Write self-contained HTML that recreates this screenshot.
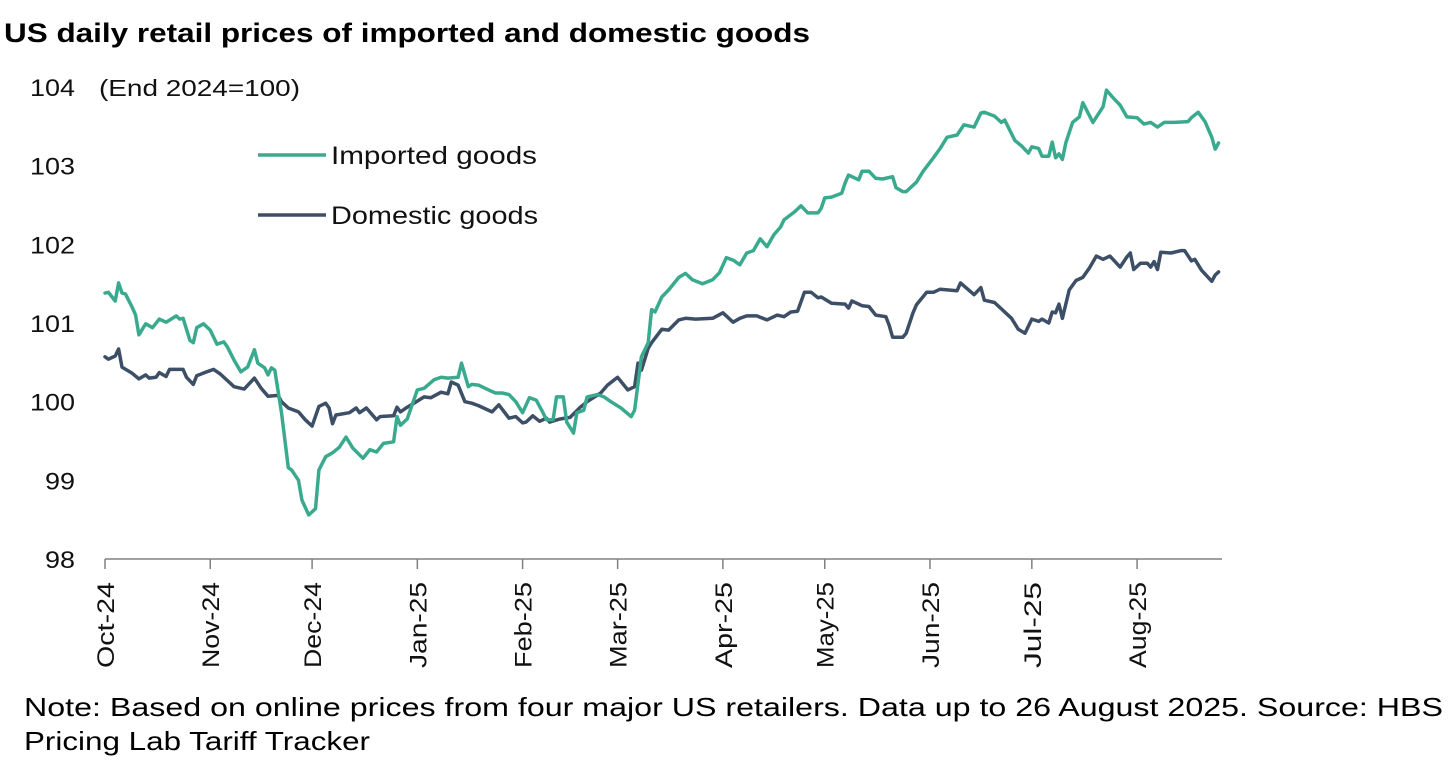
<!DOCTYPE html>
<html><head><meta charset="utf-8">
<style>
html,body{margin:0;padding:0;background:#fff;}
body{width:1456px;height:781px;overflow:hidden;position:relative;font-family:"Liberation Sans",sans-serif;}
svg{position:absolute;left:0;top:0;}
</style></head>
<body>
<svg id="chart" width="1456" height="781" xmlns="http://www.w3.org/2000/svg">
<text x="4" y="42" font-size="27" font-weight="bold" fill="#000" font-family="Liberation Sans, sans-serif" textLength="806" lengthAdjust="spacingAndGlyphs">US daily retail prices of imported and domestic goods</text>
<text x="99" y="96" font-size="23" fill="#111" font-family="Liberation Sans, sans-serif" textLength="201" lengthAdjust="spacingAndGlyphs">(End 2024=100)</text>
<g>
<line x1="258" y1="155" x2="326" y2="155" stroke="#3aaa8f" stroke-width="3.5"/>
<text x="331" y="164" font-size="25" fill="#111" font-family="Liberation Sans, sans-serif" textLength="206" lengthAdjust="spacingAndGlyphs">Imported goods</text>
<line x1="258" y1="215" x2="326" y2="215" stroke="#3d4f66" stroke-width="3.5"/>
<text x="331" y="224" font-size="25" fill="#111" font-family="Liberation Sans, sans-serif" textLength="207" lengthAdjust="spacingAndGlyphs">Domestic goods</text>
</g>
<g id="axes"></g>
<g id="series"></g>
<text x="24" y="716" font-size="26" fill="#000" font-family="Liberation Sans, sans-serif" textLength="1419" lengthAdjust="spacingAndGlyphs">Note: Based on online prices from four major US retailers. Data up to 26 August 2025. Source: HBS</text>
<text x="24" y="750" font-size="26" fill="#000" font-family="Liberation Sans, sans-serif" textLength="346" lengthAdjust="spacingAndGlyphs">Pricing Lab Tariff Tracker</text>
</svg>
<script>
const yTicks = [98, 99, 100, 101, 102, 103, 104];
const monthLabels = ["Oct-24","Nov-24","Dec-24","Jan-25","Feb-25","Mar-25","Apr-25","May-25","Jun-25","Jul-25","Aug-25"];
const monthDays = [0, 31, 61, 92, 123, 151, 182, 212, 243, 273, 304];
const importedDays = [0,1,3,4,5,6,8,9,10,12,14,16,18,21,22,23,25,26,27,29,31,33,35,36,38,40,42,44,45,47,48,49,50,52,54,55,57,58,60,62,63,65,67,69,71,73,76,78,80,82,85,86,87,89,92,94,97,99,101,104,105,107,108,110,113,115,117,119,121,123,125,127,129,130,132,133,135,136,138,139,141,142,145,147,149,152,155,156,158,160,161,162,164,166,169,171,173,176,179,181,183,185,187,189,191,193,195,197,199,200,203,205,207,210,211,212,214,217,218,219,222,223,225,227,229,232,233,235,236,239,241,244,246,248,251,253,256,258,259,262,264,265,268,270,272,273,275,276,278,279,280,281,282,283,285,287,288,291,294,295,297,299,301,304,306,308,310,312,315,319,320,322,324,326,327,328];
const importedValues = [101.38,101.39,101.28,101.51,101.38,101.37,101.20,101.10,100.85,100.99,100.94,101.05,101.01,101.09,101.05,101.06,100.78,100.75,100.94,100.99,100.91,100.73,100.76,100.70,100.53,100.38,100.44,100.66,100.49,100.43,100.34,100.43,100.40,99.86,99.16,99.13,99.00,98.75,98.56,98.64,99.13,99.30,99.35,99.42,99.55,99.41,99.28,99.39,99.36,99.47,99.49,99.81,99.70,99.78,100.15,100.17,100.28,100.31,100.30,100.31,100.49,100.19,100.22,100.21,100.15,100.11,100.11,100.09,100.00,99.86,100.05,100.02,99.86,99.77,99.77,100.06,100.06,99.74,99.60,99.86,99.89,100.06,100.09,100.06,100.00,99.92,99.81,99.89,100.57,100.75,101.17,101.14,101.33,101.42,101.58,101.63,101.55,101.50,101.55,101.64,101.83,101.80,101.74,101.89,101.92,102.07,101.97,102.12,102.22,102.31,102.41,102.49,102.40,102.40,102.46,102.59,102.60,102.65,102.78,102.88,102.82,102.93,102.93,102.84,102.83,102.86,102.72,102.67,102.67,102.79,102.93,103.10,103.22,103.36,103.39,103.52,103.49,103.67,103.68,103.63,103.55,103.58,103.32,103.25,103.16,103.24,103.22,103.12,103.12,103.30,103.10,103.15,103.08,103.29,103.55,103.62,103.80,103.55,103.75,103.96,103.86,103.77,103.62,103.61,103.53,103.55,103.49,103.55,103.55,103.56,103.61,103.68,103.56,103.36,103.21,103.29];
const domesticDays = [0,1,3,4,5,8,10,12,13,15,16,18,19,23,24,26,27,30,32,34,36,38,41,44,46,48,51,52,54,57,59,61,63,65,66,67,68,72,74,75,77,80,81,85,86,87,89,91,94,96,99,101,102,104,106,108,110,114,116,119,121,123,124,126,128,130,131,134,137,140,142,146,148,151,154,156,157,158,160,161,164,166,169,171,174,179,182,185,187,189,192,195,198,200,202,204,206,208,210,211,214,218,219,220,223,225,227,230,231,232,235,236,238,239,242,244,246,251,252,256,258,259,262,267,269,271,273,275,276,278,279,280,281,282,284,286,288,290,292,294,296,299,301,302,303,305,307,308,309,310,311,314,317,318,320,321,323,326,327,328];
const domesticValues = [100.57,100.54,100.58,100.67,100.44,100.36,100.29,100.34,100.30,100.31,100.37,100.32,100.41,100.41,100.31,100.22,100.33,100.38,100.41,100.35,100.27,100.19,100.16,100.30,100.17,100.07,100.08,100.00,99.92,99.87,99.77,99.69,99.94,99.98,99.92,99.72,99.83,99.86,99.92,99.86,99.92,99.77,99.81,99.82,99.93,99.87,99.93,99.98,100.06,100.05,100.12,100.10,100.25,100.21,100.00,99.98,99.95,99.87,99.96,99.79,99.81,99.73,99.74,99.82,99.75,99.79,99.74,99.78,99.80,99.93,100.00,100.11,100.21,100.31,100.15,100.19,100.49,100.40,100.68,100.75,100.92,100.91,101.04,101.06,101.05,101.06,101.13,101.01,101.06,101.09,101.09,101.04,101.10,101.08,101.14,101.15,101.39,101.39,101.32,101.33,101.25,101.24,101.19,101.28,101.22,101.21,101.10,101.08,100.97,100.82,100.82,100.87,101.13,101.23,101.39,101.39,101.43,101.41,101.51,101.36,101.45,101.29,101.26,101.06,100.92,100.87,101.05,101.02,101.05,101.00,101.14,101.13,101.24,101.06,101.42,101.54,101.58,101.70,101.85,101.81,101.85,101.71,101.84,101.89,101.68,101.76,101.76,101.71,101.78,101.68,101.90,101.89,101.92,101.92,101.79,101.81,101.67,101.53,101.61,101.65];

const NS = "http://www.w3.org/2000/svg";
const X0 = 105, PXDAY = 3.395;
const Y98 = 559, PXUNIT = (559 - 87) / 6;
function xScale(d){ return X0 + d * PXDAY; }
function yScale(v){ return Y98 - (v - 98) * PXUNIT; }
function mk(tag, attrs, parent){
  const el = document.createElementNS(NS, tag);
  for (const k in attrs) el.setAttribute(k, attrs[k]);
  parent.appendChild(el);
  return el;
}
const axes = document.getElementById('axes');
const series = document.getElementById('series');

const axisLine = mk('line', {x1: X0, y1: Y98, x2: 1222, y2: Y98, stroke: '#808080', 'stroke-width': 1.5}, axes);



yTicks.forEach(function(t){
  const lbl = mk('text', {x: 75, y: yScale(t) + 9, 'text-anchor': 'end', 'font-size': 24, fill: '#111', 'font-family': 'Liberation Sans, sans-serif', textLength: (t >= 100 ? 45 : 30), lengthAdjust: 'spacingAndGlyphs'}, axes);
  lbl.textContent = String(t);
  
  
});

monthDays.forEach(function(d, i){
  const x = xScale(d);
  const tk = mk('line', {x1: x, y1: Y98, x2: x, y2: Y98 + 10, stroke: '#808080', 'stroke-width': 1.5}, axes);
  
  
  const lbl = mk('text', {x: 0, y: 0, 'text-anchor': 'end', 'font-size': 24, fill: '#111', 'font-family': 'Liberation Sans, sans-serif', textLength: 86, lengthAdjust: 'spacingAndGlyphs', transform: 'translate(' + (x + 9) + ',' + (Y98 + 23) + ') rotate(-90)'}, axes);
  lbl.textContent = monthLabels[i];
  
  
});

function drawLine(days, vals, color, name){
  const pts = days.map(function(d, i){ return xScale(d).toFixed(1) + ',' + yScale(vals[i]).toFixed(1); }).join(' ');
  const pl = mk('polyline', {points: pts, fill: 'none', stroke: color, 'stroke-width': 3.5, 'stroke-linejoin': 'round', 'stroke-linecap': 'round'}, series);
  
  
}
drawLine(domesticDays, domesticValues, '#3d4f66', 'domestic-goods-line');
drawLine(importedDays, importedValues, '#3aaa8f', 'imported-goods-line');
</script>
</body></html>
